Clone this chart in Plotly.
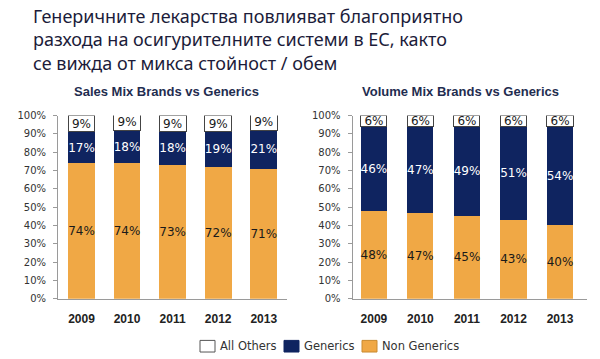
import plotly.graph_objects as go

years = ["2009", "2010", "2011", "2012", "2013"]
sales_non_generics = [74, 74, 73, 72, 71]
sales_generics = [17, 18, 18, 19, 21]
sales_others = [9, 9, 9, 9, 9]
vol_non_generics = [48, 47, 45, 43, 40]
vol_generics = [46, 47, 49, 51, 54]
vol_others = [6, 6, 6, 6, 6]
y_ticks = list(range(0, 101, 10))

title_lines = [
    "Генеричните лекарства повлияват благоприятно",
    "разхода на осигурителните системи в ЕС, както",
    "се вижда от микса стойност / обем",
]
chart_titles = ["Sales Mix Brands vs Generics", "Volume Mix Brands vs Generics"]
legend_names = ["All Others", "Generics", "Non Generics"]

ORANGE = "#F0A845"
NAVY = "#0F2460"
W, H = 600, 359

fig = go.Figure()

def add_stack(xa, ya, ng, g, o, width):
    common = dict(x=years, xaxis=xa, yaxis=ya, width=width, textposition="inside",
                  insidetextanchor="middle", constraintext="none", textangle=0, showlegend=False)
    fig.add_trace(go.Bar(y=ng, name="Non Generics", marker=dict(color=ORANGE, line=dict(width=0)),
                         text=[f"{v}%" for v in ng],
                         textfont=dict(family="DejaVu Sans", size=12, color="#1a1a1a"), **common))
    fig.add_trace(go.Bar(y=g, name="Generics", marker=dict(color=NAVY, line=dict(width=0)),
                         text=[f"{v}%" for v in g],
                         textfont=dict(family="DejaVu Sans", size=12, color="white"), **common))
    fig.add_trace(go.Bar(y=o, name="All Others", marker=dict(color="white", line=dict(width=1, color="#444")),
                         text=[f"{v}%" for v in o],
                         textfont=dict(family="DejaVu Sans", size=12, color="#1a1a1a"), **common))

add_stack("x", "y", sales_non_generics, sales_generics, sales_others, 0.59)
add_stack("x2", "y2", vol_non_generics, vol_generics, vol_others, 0.56)

yd = [56 / H, 245 / H]
axis_y = dict(range=[0, 100], tickvals=y_ticks, ticktext=[f"{t}%" for t in y_ticks],
              showgrid=False, showline=True, linecolor="#9a9a9a", linewidth=1,
              ticks="outside", ticklen=4, tickcolor="#9a9a9a", ticklabelstandoff=5,
              tickfont=dict(family="DejaVu Sans", size=10, color="#333"), domain=yd, zeroline=False)
axis_x = dict(type="category", showgrid=False, showline=True, linecolor="#9a9a9a", linewidth=1,
              ticks="outside", ticklen=9, tickcolor="rgba(0,0,0,0)",
              tickfont=dict(family="Liberation Sans", size=12, color="#222", weight="bold"))

fig.update_layout(
    barmode="stack",
    width=W, height=H,
    margin=dict(l=0, r=0, t=0, b=0),
    paper_bgcolor="white", plot_bgcolor="white",
    xaxis=dict(axis_x, domain=[58 / W, 287 / W], range=[-0.515, 4.51], anchor="y"),
    yaxis=dict(axis_y, anchor="x"),
    xaxis2=dict(axis_x, domain=[352.5 / W, 587 / W], range=[-0.46, 4.58], anchor="y2"),
    yaxis2=dict(axis_y, anchor="x2"),
    showlegend=False,
)

# main title (one text block, three lines)
fig.add_annotation(text="<br>".join(title_lines), xref="paper", yref="paper", x=31 / W, y=(H - 36) / H,
                   xanchor="left", yanchor="middle", align="left", showarrow=False,
                   font=dict(family="Noto Sans", size=18, color="#1c1c3a"))

for t, xc in zip(chart_titles, [166, 460]):
    fig.add_annotation(text=f"<b>{t}</b>", xref="paper", yref="paper", x=xc / W, y=(H - 89) / H,
                       xanchor="center", yanchor="middle", showarrow=False,
                       font=dict(family="Liberation Sans", size=13, color="#1F2D50"))

# legend (drawn as boxes + labels)
legend_fill = ["white", NAVY, ORANGE]
legend_line = ["#555", NAVY, "#C98A30"]
box_x = [200, 284, 362]
for name, fill, lc, bx in zip(legend_names, legend_fill, legend_line, box_x):
    fig.add_shape(type="rect", xref="paper", yref="paper",
                  x0=bx / W, x1=(bx + 15) / W, y0=(H - 358) / H, y1=(H - 346) / H,
                  fillcolor=fill, line=dict(color=lc, width=1))
    fig.add_annotation(text=name, xref="paper", yref="paper", x=(bx + 18) / W, y=(H - 352) / H,
                       xanchor="left", yanchor="middle", showarrow=False,
                       font=dict(family="DejaVu Sans", size=11.5, color="#333"))

fig.write_html("out.html", config={"displayModeBar": False},
               post_script="document.body.style.margin='0';")
